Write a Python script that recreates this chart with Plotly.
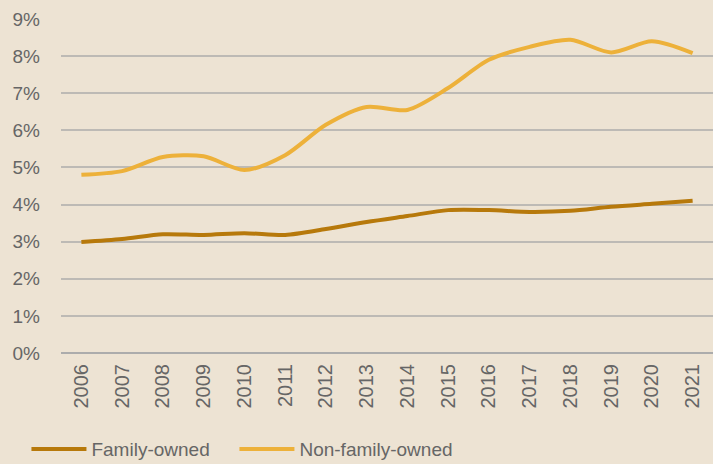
import plotly.graph_objects as go

years = [str(y) for y in range(2006, 2022)]
family = [2.99, 3.07, 3.20, 3.18, 3.23, 3.18, 3.34, 3.53, 3.69, 3.85, 3.85, 3.80, 3.83, 3.94, 4.02, 4.10]
non_family = [4.80, 4.90, 5.28, 5.30, 4.93, 5.33, 6.15, 6.63, 6.55, 7.14, 7.90, 8.25, 8.44, 8.10, 8.40, 8.08]
y_ticks = list(range(0, 10))
y_labels = [f"{v}%" for v in y_ticks]

fig = go.Figure()
fig.add_trace(go.Scatter(x=years, y=family, name="Family-owned", mode="lines",
                         legend="legend",
                         line=dict(color="#B7790B", width=4, shape="spline", smoothing=0.8)))
fig.add_trace(go.Scatter(x=years, y=non_family, name="Non-family-owned", mode="lines",
                         legend="legend2",
                         line=dict(color="#EDB13A", width=4, shape="spline", smoothing=0.8)))

leg_common = dict(orientation="h", xanchor="left", yanchor="middle",
                  yref="container", y=0.032,
                  bgcolor="rgba(0,0,0,0)", font=dict(size=19, color="#666666"),
                  itemwidth=55)
fig.update_layout(
    width=713, height=464,
    margin=dict(l=61, r=0, t=19, b=111),
    paper_bgcolor="#EDE3D3", plot_bgcolor="#EDE3D3",
    font=dict(family="Liberation Sans, Arial, sans-serif", size=19, color="#666666"),
    showlegend=True,
    legend=dict(x=-0.053, **leg_common),
    legend2=dict(x=0.266, **leg_common),
)
fig.update_xaxes(type="category", range=[-0.5, 15.5], tickangle=-90, showgrid=False,
                 showline=False, ticks="", automargin=False, ticklabelstandoff=6,
                 tickfont=dict(size=20, color="#666666"))
fig.update_yaxes(range=[0, 9], tickvals=y_ticks, ticktext=y_labels, showgrid=True,
                 gridcolor="#BDBAB5", gridwidth=1.5, zeroline=True, zerolinecolor="#ACACAC",
                 zerolinewidth=2, showline=False, ticks="", ticklabelstandoff=20,
                 automargin=False, tickfont=dict(size=19, color="#666666"))

fig.write_html("out.html", config={"displayModeBar": False},
               post_script="document.body.style.margin='0';document.body.style.padding='0';")
